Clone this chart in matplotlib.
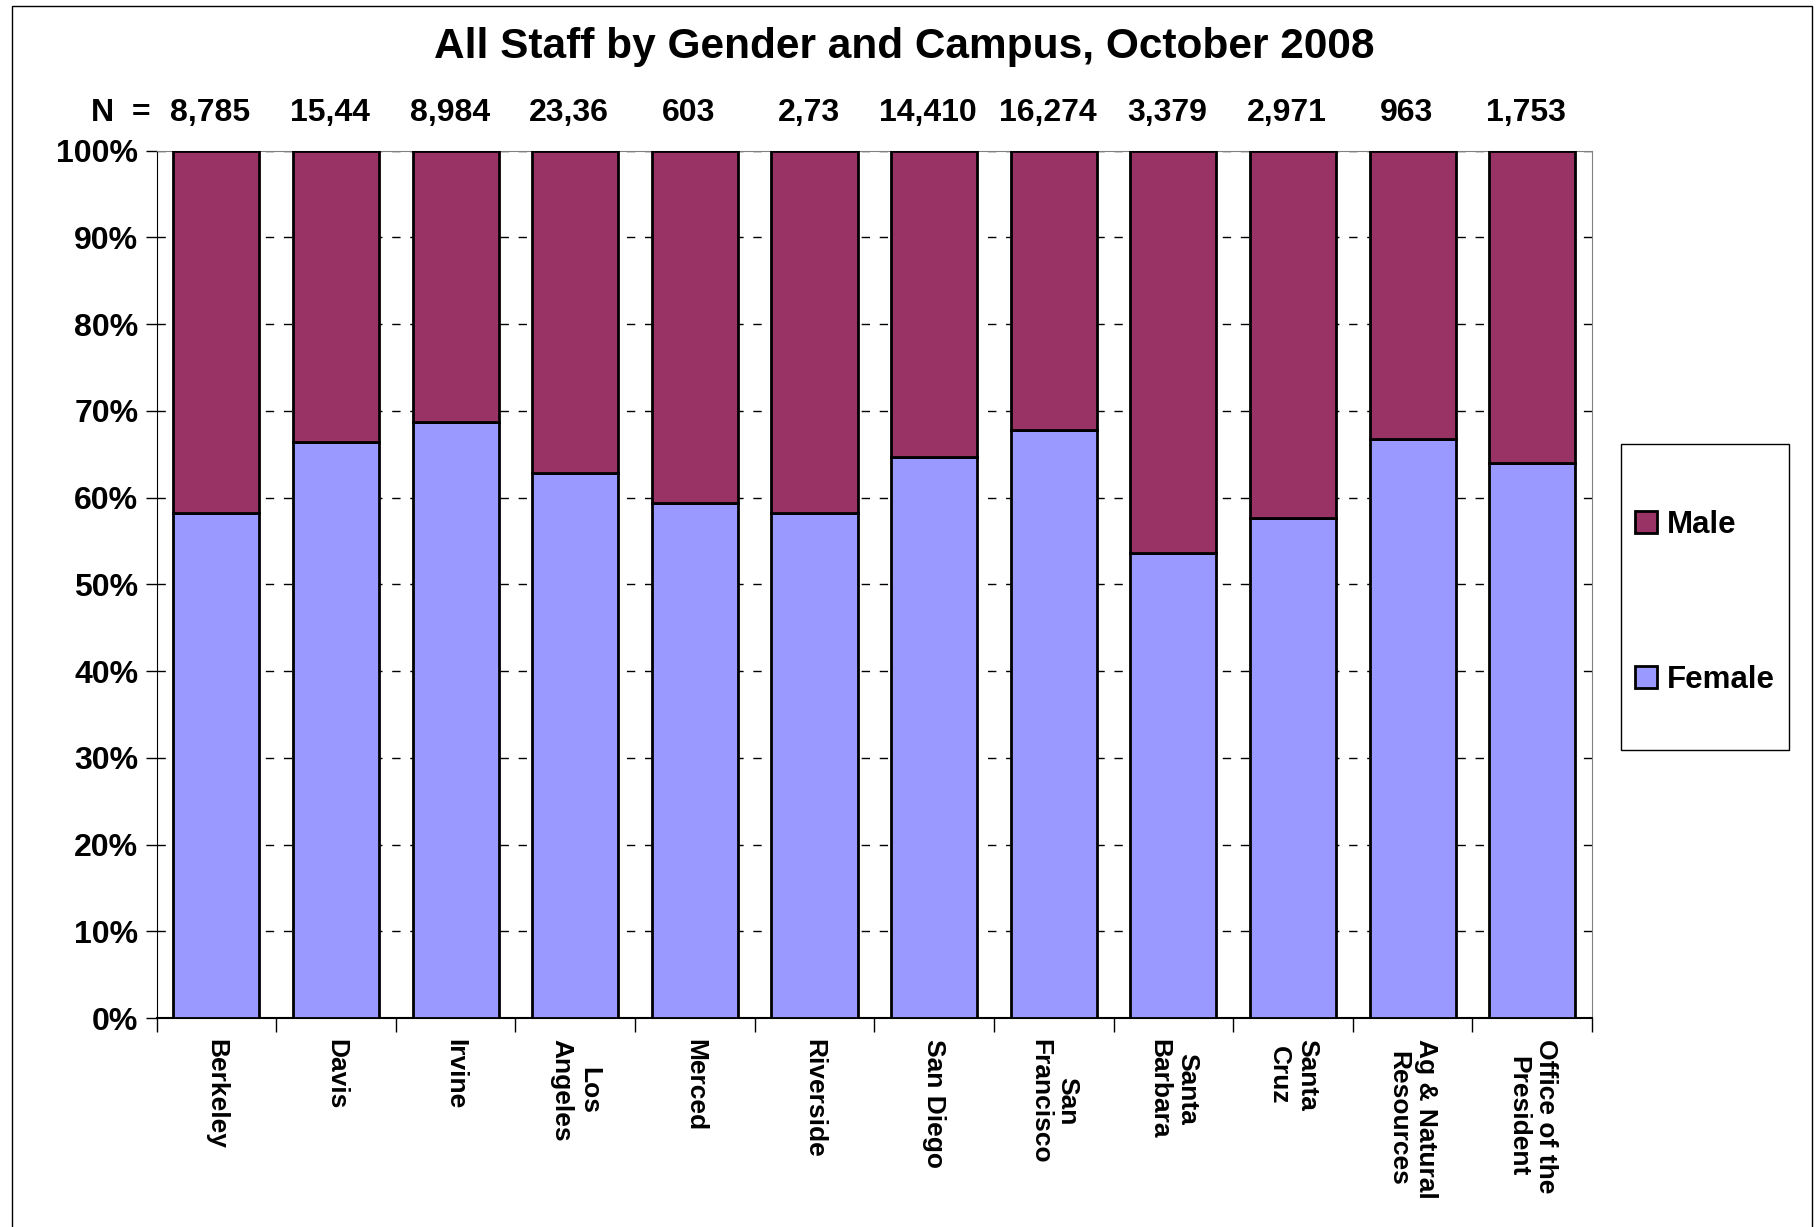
import matplotlib.pyplot as plt
import numpy as np
from matplotlib.patches import Rectangle

campuses = ["Berkeley", "Davis", "Irvine", "Los\nAngeles", "Merced", "Riverside",
            "San Diego", "San\nFrancisco", "Santa\nBarbara", "Santa\nCruz",
            "Ag & Natural\nResources", "Office of the\nPresident"]
n_labels = ["8,785", "15,44", "8,984", "23,36", "603", "2,73",
            "14,410", "16,274", "3,379", "2,971", "963", "1,753"]
female = [58.2, 66.4, 68.7, 62.8, 59.4, 58.2, 64.7, 67.8, 53.6, 57.6, 66.8, 64.0]
male = [100 - f for f in female]

MALE_COLOR = "#993366"
FEMALE_COLOR = "#9999FF"

plt.rcParams["font.family"] = ["Liberation Sans", "DejaVu Sans"]
plt.rcParams["font.weight"] = "bold"


def plot():
    fig = plt.figure(figsize=(18.18, 12.27), dpi=100)
    ax = fig.add_axes([0.0861, 0.1703, 0.7896, 0.7069])

    x = np.arange(len(campuses))
    width = 0.72
    b_f = ax.bar(x, female, width, color=FEMALE_COLOR, edgecolor="black",
                 linewidth=2, label="Female", zorder=3)
    b_m = ax.bar(x, male, width, bottom=female, color=MALE_COLOR,
                 edgecolor="black", linewidth=2, label="Male", zorder=3)

    ax.set_xlim(-0.5, len(campuses) - 0.5)
    ax.set_ylim(0, 100)
    ax.set_yticks(np.arange(0, 101, 10))
    ax.set_yticklabels([f"{v}%" for v in range(0, 101, 10)],
                       fontsize=23, fontweight="bold")
    ax.yaxis.grid(True, linestyle=(0, (6, 7)), color="black", linewidth=1)
    ax.set_axisbelow(True)
    ax.tick_params(axis="y", length=8, width=1, direction="out", pad=5)

    # category labels on major ticks (hidden), boundary marks on minor ticks
    ax.set_xticks(x)
    ax.set_xticklabels(campuses, rotation=270, fontsize=19, fontweight="bold",
                       va="top", ha="center", multialignment="center")
    ax.set_xticks(np.arange(-0.5, len(campuses), 1), minor=True)
    ax.tick_params(axis="x", which="major", length=0, pad=15)
    ax.tick_params(axis="x", which="minor", length=10, width=1, direction="out")

    for side in ("top", "right"):
        ax.spines[side].set_color("#808080")
    for side in ("left", "bottom"):
        ax.spines[side].set_color("black")
    ax.spines["bottom"].set_linewidth(1.5)

    # N counts above bars
    trans = ax.get_xaxis_transform()
    for xi, lab in zip(x, n_labels):
        ax.text(xi - 0.05, 1.043, lab, transform=trans, ha="center",
                va="center", fontsize=23, fontweight="bold")
    ax.text(-0.55, 1.043, "N  =", transform=trans, ha="right", va="center",
            fontsize=23, fontweight="bold")

    fig.text(0.4974, 0.962, "All Staff by Gender and Campus, October 2008",
             ha="center", va="center", fontsize=30.5, fontweight="bold")

    # legend box drawn separately so it can be tall and narrow
    fig.patches.append(Rectangle((0.8916, 0.389), 0.0924, 0.249,
                                 transform=fig.transFigure, fill=False,
                                 edgecolor="black", linewidth=1))
    leg = fig.legend([b_m, b_f], ["Male", "Female"], loc="center",
                     bbox_to_anchor=(0.9378, 0.509), fontsize=22.5,
                     frameon=False, labelspacing=4.0, handlelength=0.7,
                     handleheight=0.7, handletextpad=0.3, borderaxespad=0)
    for t in leg.get_texts():
        t.set_fontweight("bold")

    fig.patches.append(Rectangle((0.0064, -0.01), 0.9903, 1.005,
                                 transform=fig.transFigure, fill=False,
                                 edgecolor="black", linewidth=1))

    fig.savefig("out.png", dpi=100)
    plt.close()


if __name__ == "__main__":
    plot()
